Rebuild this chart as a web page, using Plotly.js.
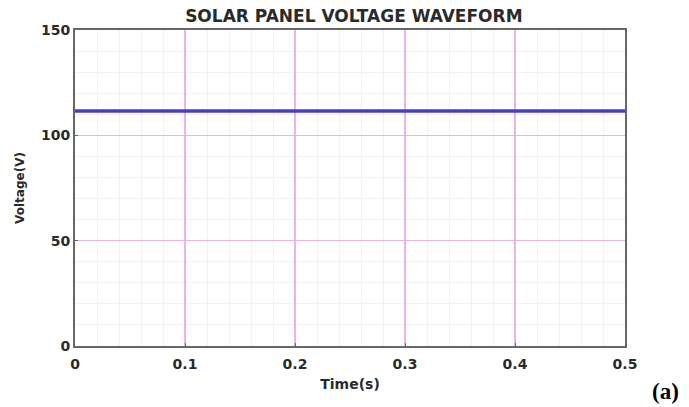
<!DOCTYPE html>
<html><head><meta charset="utf-8">
<script src="https://cdn.plot.ly/plotly-3.0.1.min.js"></script>
<style>html,body{margin:0;padding:0;background:#fff;}#chart{width:689px;height:407px;}</style>
</head><body><div id="chart"></div>
<script>
const timeS = [0, 0.1, 0.2, 0.3, 0.4, 0.5];
const voltageV = [111.5, 111.5, 111.5, 111.5, 111.5, 111.5];
const xTickVals = [0, 0.1, 0.2, 0.3, 0.4, 0.5];
const xTickText = ['0', '0.1', '0.2', '0.3', '0.4', '0.5'];
const yTickVals = [0, 50, 100, 150];
const yTickText = ['0', '50', '100', '150'];
const xMinorVals = [0.02, 0.04, 0.06, 0.08, 0.12, 0.14, 0.16, 0.18, 0.22, 0.24, 0.26, 0.28, 0.32, 0.34, 0.36, 0.38, 0.42, 0.44, 0.46, 0.48];
const yMinorVals = [10, 20, 30, 40, 60, 70, 80, 90, 110, 120, 130, 140];

const tickFont = {family: 'DejaVu Sans', size: 14, color: '#2a2a2a', weight: 'bold'};
const data = [{
  x: timeS, y: voltageV, type: 'scatter', mode: 'lines',
  line: {color: '#4040c8', width: 3.5}, hoverinfo: 'skip'
}];
const layout = {
  width: 689, height: 407,
  margin: {l: 75, r: 64, t: 30, b: 61},
  paper_bgcolor: '#fff', plot_bgcolor: '#fff',
  showlegend: false,
  title: {text: 'SOLAR PANEL VOLTAGE WAVEFORM', font: {family: 'DejaVu Sans', size: 17, color: '#2a2a2a', weight: 'bold'}, x: 0.507, xref: 'paper', xanchor: 'center', y: 0.96, yanchor: 'middle'},
  xaxis: {
    range: [0, 0.5], tickmode: 'array', tickvals: xTickVals, ticktext: xTickText,
    tickfont: tickFont, showgrid: true, gridcolor: '#eeb2e2', gridwidth: 1.5,
    minor: {tickmode: 'array', tickvals: xMinorVals, showgrid: true, gridcolor: '#f8eef6', gridwidth: 1, ticks: ''},
    zeroline: false, showline: true, linecolor: '#666', linewidth: 2, mirror: true,
    ticks: 'inside', ticklen: 3, tickcolor: '#666', ticklabelstandoff: 4,
    title: {text: 'Time(s)', font: {family: 'DejaVu Sans', size: 14, color: '#2a2a2a', weight: 'bold'}, standoff: 8}
  },
  yaxis: {
    range: [0, 150], tickmode: 'array', tickvals: yTickVals, ticktext: yTickText,
    tickfont: tickFont, showgrid: true, gridcolor: '#eeb2e2', gridwidth: 1.5,
    minor: {tickmode: 'array', tickvals: yMinorVals, showgrid: true, gridcolor: '#f8eef6', gridwidth: 1, ticks: ''},
    zeroline: false, showline: true, linecolor: '#666', linewidth: 2, mirror: true,
    ticks: 'inside', ticklen: 3, tickcolor: '#666',
    title: {text: 'Voltage(V)', font: {family: 'DejaVu Sans', size: 12, color: '#2a2a2a', weight: 'bold'}, standoff: 14}
  },
  annotations: [{
    text: '(a)', xref: 'paper', yref: 'paper', x: (665 - 75) / 550, y: -(391 - 346) / 316, xanchor: 'center', yanchor: 'middle',
    showarrow: false, font: {family: 'Liberation Serif', size: 23, color: '#000', weight: 'bold'}
  }]
};
Plotly.newPlot('chart', data, layout, {displayModeBar: false, staticPlot: true});
</script></body></html>
